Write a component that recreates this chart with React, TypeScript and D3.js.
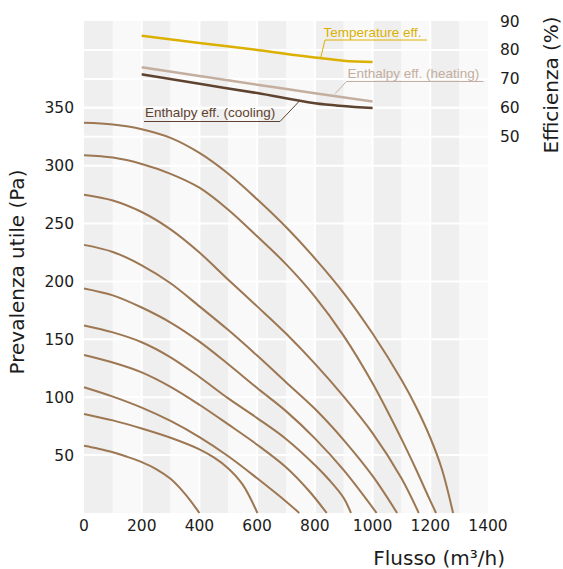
import React from 'react';
import * as d3 from 'd3';

const W = 563;
const H = 569;

// Axis ticks
const xTicks = [0, 200, 400, 600, 800, 1000, 1200, 1400];
const yTicks = [50, 100, 150, 200, 250, 300, 350];
const effTicks = [50, 60, 70, 80, 90];

// Fan curves: [flow m3/h, pressure Pa]
const curve1: [number, number][] = [[0, 337], [100, 335.5], [200, 331.5], [300, 324], [400, 311], [500, 293], [600, 271], [700, 247], [800, 220], [900, 190], [1000, 155], [1100, 115], [1150, 92], [1200, 65], [1240, 38], [1279, 0]];
const curve2: [number, number][] = [[0, 309], [100, 307], [200, 301.5], [300, 293], [400, 281], [500, 262], [600, 239], [700, 215], [800, 187], [900, 153], [1000, 112], [1100, 64], [1150, 38], [1190, 16], [1220, 0]];
const curve3: [number, number][] = [[0, 275], [100, 270], [200, 260], [300, 245], [400, 225], [500, 201.5], [600, 178.5], [700, 155], [800, 129], [900, 100.5], [1000, 69], [1100, 30], [1160, 0]];
const curve4: [number, number][] = [[0, 231.6], [100, 225.5], [200, 214], [300, 198.5], [400, 178.5], [500, 158], [600, 136], [700, 113], [800, 90], [900, 63], [1000, 32], [1085, 0]];
const curve5: [number, number][] = [[0, 194], [100, 188], [200, 177.5], [300, 164.5], [400, 148], [500, 128.5], [600, 108], [700, 88], [800, 64.5], [900, 37], [1014, 0]];
const curve6: [number, number][] = [[0, 162], [100, 156], [200, 147.5], [300, 134.5], [400, 117.5], [500, 99], [600, 82], [700, 64], [800, 41.5], [850, 28.5], [900, 13], [925, 0]];
const curve7: [number, number][] = [[0, 136.5], [100, 130], [200, 121.5], [300, 109], [400, 93.5], [500, 76.5], [600, 59], [700, 39.5], [780, 19], [841, 0]];
const curve8: [number, number][] = [[0, 108.6], [100, 100.5], [200, 91], [300, 79.5], [400, 65.5], [500, 49], [600, 30], [700, 10], [746, 0]];
const curve9: [number, number][] = [[0, 85.6], [100, 80], [200, 73], [300, 65], [400, 55], [450, 48], [500, 38.5], [550, 24.5], [601, 0]];
const curve10: [number, number][] = [[0, 58], [50, 55.5], [100, 52.5], [150, 48.5], [200, 44], [250, 38], [300, 29.5], [350, 16.5], [400, 0]];
const fanCurves = [curve1, curve2, curve3, curve4, curve5, curve6, curve7, curve8, curve9, curve10];

// Efficiency curves: [flow m3/h, efficiency %]
const tempEff: [number, number][] = [[200, 84.9], [400, 82.4], [600, 80], [800, 77.4], [900, 76.3], [1000, 75.8]];
const heatEff: [number, number][] = [[200, 74], [400, 71], [600, 68], [800, 65], [1000, 62.2]];
const coolEff: [number, number][] = [[200, 71.6], [400, 68.3], [600, 65.1], [800, 61.6], [1000, 59.9]];

const TICK_FONT = "'DejaVu Sans', sans-serif";
const LABEL_FONT = "'Liberation Sans', Arial, sans-serif";

export default function App() {
  const x = d3.scaleLinear().domain([0, 1400]).range([84, 488]);
  const y = d3.scaleLinear().domain([0, 425]).range([513, 21]);
  const yE = d3.scaleLinear().domain([50, 90]).range([y(325), y(425)]);

  const fanLine = d3.line<[number, number]>()
    .x(d => x(d[0]))
    .y(d => y(d[1]))
    .curve(d3.curveCatmullRom.alpha(0.5));
  const effLine = d3.line<[number, number]>()
    .x(d => x(d[0]))
    .y(d => yE(d[1]))
    .curve(d3.curveMonotoneX);

  const cols = d3.range(0, 1400, 100);
  const vLines = xTicks.filter(v => v > 0 && v < 1400);
  const hLines = [...yTicks.map(v => y(v)), ...effTicks.filter(v => v < 90).map(v => yE(v))];

  const tempColor = '#dcb000';
  const heatColor = '#c4ae9f';
  const coolColor = '#5e4330';
  const fanColor = '#9c7752';

  return (
    <svg width={W} height={H} style={{ position: 'absolute', left: 0, top: 0, background: '#fff' }}>
      {/* background columns */}
      {cols.map((c, i) => (
        <rect key={'c' + c} x={x(c)} y={y(425)} width={x(c + 100) - x(c)} height={y(0) - y(425)}
          fill={i % 2 === 0 ? '#efefef' : '#f9f9f9'} />
      ))}
      {vLines.map(v => (
        <line key={'v' + v} x1={x(v)} x2={x(v)} y1={y(425)} y2={y(0)} stroke="#fff" strokeWidth={2} />
      ))}
      {hLines.map((py, i) => (
        <line key={'h' + i} x1={x(0)} x2={x(1400)} y1={py} y2={py} stroke="#fff" strokeWidth={2} />
      ))}

      {/* fan curves */}
      {fanCurves.map((c, i) => (
        <path key={'f' + i} d={fanLine(c) || ''} fill="none" stroke={fanColor} strokeWidth={2} />
      ))}

      {/* efficiency curves */}
      <path d={effLine(tempEff) || ''} fill="none" stroke={tempColor} strokeWidth={2.5} />
      <path d={effLine(heatEff) || ''} fill="none" stroke={heatColor} strokeWidth={2.5} />
      <path d={effLine(coolEff) || ''} fill="none" stroke={coolColor} strokeWidth={2.5} />

      {/* annotations */}
      <g fontFamily={LABEL_FONT} fontSize={13.5}>
        <text x={323.5} y={36.5} fill={tempColor}>Temperature eff.</text>
        <polyline points={`${x(820)},${yE(77.2)} 325,40 427,40`} fill="none" stroke={tempColor} strokeWidth={1} />
        <text x={347.5} y={78} fill={heatColor}>Enthalpy eff. (heating)</text>
        <polyline points={`${x(870)},${yE(64.9)} 346.5,81.5 483.5,81.5`} fill="none" stroke={heatColor} strokeWidth={1} />
        <text x={145} y={116.5} fill={coolColor}>Enthalpy eff. (cooling)</text>
        <polyline points={`${x(748)},${yE(62.5)} 280,121.5 144,121.5`} fill="none" stroke={coolColor} strokeWidth={1} />
      </g>

      {/* axes labels */}
      <g fontFamily={TICK_FONT} fontSize={15.5} fill="#1c1c1c">
        {yTicks.map(v => (
          <text key={'yt' + v} x={74} y={y(v) + 5.5} textAnchor="end">{v}</text>
        ))}
        {xTicks.map(v => (
          <text key={'xt' + v} x={x(v)} y={531} textAnchor="middle">{v}</text>
        ))}
        {effTicks.map(v => (
          <text key={'et' + v} x={500} y={yE(v) + 5.5} textAnchor="start">{v}</text>
        ))}
      </g>
      <g fontFamily={TICK_FONT} fontSize={20} fill="#1c1c1c">
        <text x={505} y={565} textAnchor="end">Flusso (m³/h)</text>
        <text transform="translate(24,272) rotate(-90)" textAnchor="middle">Prevalenza utile (Pa)</text>
        <text transform="translate(558,85) rotate(-90)" textAnchor="middle">Efficienza (%)</text>
      </g>
    </svg>
  );
}
